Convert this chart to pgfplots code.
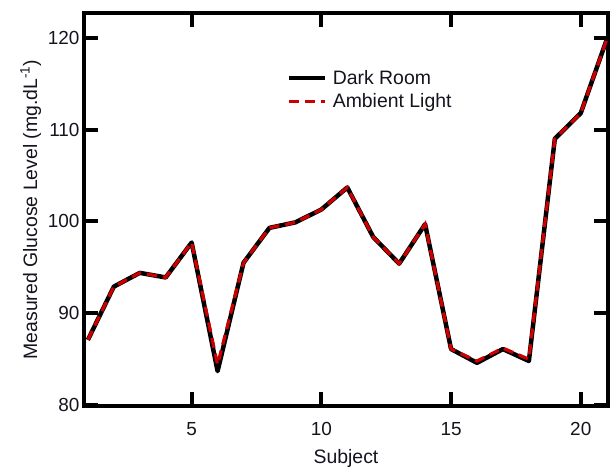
\documentclass[border=0pt]{standalone}
\usepackage{fontspec}
\setmainfont{Liberation Sans}
\usepackage{pgfplots}
\pgfplotsset{compat=1.18}
\definecolor{dred}{RGB}{204,0,0}
\definecolor{txt}{RGB}{20,20,30}
\begin{document}
\begin{tikzpicture}
\begin{axis}[
 scale only axis, width=524bp, height=393bp,
 xmin=0.85, xmax=21.05, ymin=79.9, ymax=122.7,
 xtick={5,10,15,20}, ytick={80,90,...,120},
 tick align=inside, major tick length=14bp,
 tick style={line width=4pt, black},
 axis line style={line width=4.5pt},
 ticklabel style={font=\fontsize{19}{22}\selectfont, text=txt},
 xticklabel style={yshift=-13bp},
 yticklabel style={xshift=-1bp},
 /pgf/number format/assume math mode=true,
 xlabel={Subject},
 ylabel={Measured Glucose Level (mg.dL\textsuperscript{-1})},
 label style={font=\fontsize{19.5}{22}\selectfont, text=txt},
 xlabel style={yshift=-7bp},
 ylabel style={yshift=0bp},
 legend style={draw=none, fill=none, at={(0.38,0.865)}, anchor=north west,
   font=\fontsize{19.5}{22}\selectfont, text=txt, row sep=4pt,
   nodes={inner xsep=6bp}},
 legend cell align=left,
 legend image code/.code={\draw[#1] (0bp,0bp) -- (36bp,0bp);},
]
\addplot[black, line width=4.5pt, line join=round] coordinates {
(1,87.1) (2,92.9) (3,94.4) (4,93.9) (5,97.7) (6,83.7) (7,95.5) (8,99.3) (9,99.9) (10,101.3) (11,103.7)
(12,98.3) (13,95.4) (14,99.7) (15,86.1) (16,84.6) (17,86.1) (18,84.8) (19,109.0) (20,111.8) (21,119.8)};
\addlegendentry{Dark Room}
\addplot[dred, line width=3.2pt, dash pattern=on 10bp off 6bp] coordinates {
(1,87.1) (2,92.9) (3,94.4) (4,93.9) (5,97.7) (6,84.4) (7,95.5) (8,99.3) (9,99.9) (10,101.3) (11,103.7)
(12,98.3) (13,95.4) (14,99.7) (15,86.1) (16,84.8) (17,86.2) (18,85.0) (19,109.0) (20,111.8) (21,119.8)};
\addlegendentry{Ambient Light}
\end{axis}
\pgfresetboundingbox
\path ([shift={(-84bp,-62bp)}]current axis.south west) rectangle ([shift={(2bp,13bp)}]current axis.north east);
\end{tikzpicture}
\end{document}
